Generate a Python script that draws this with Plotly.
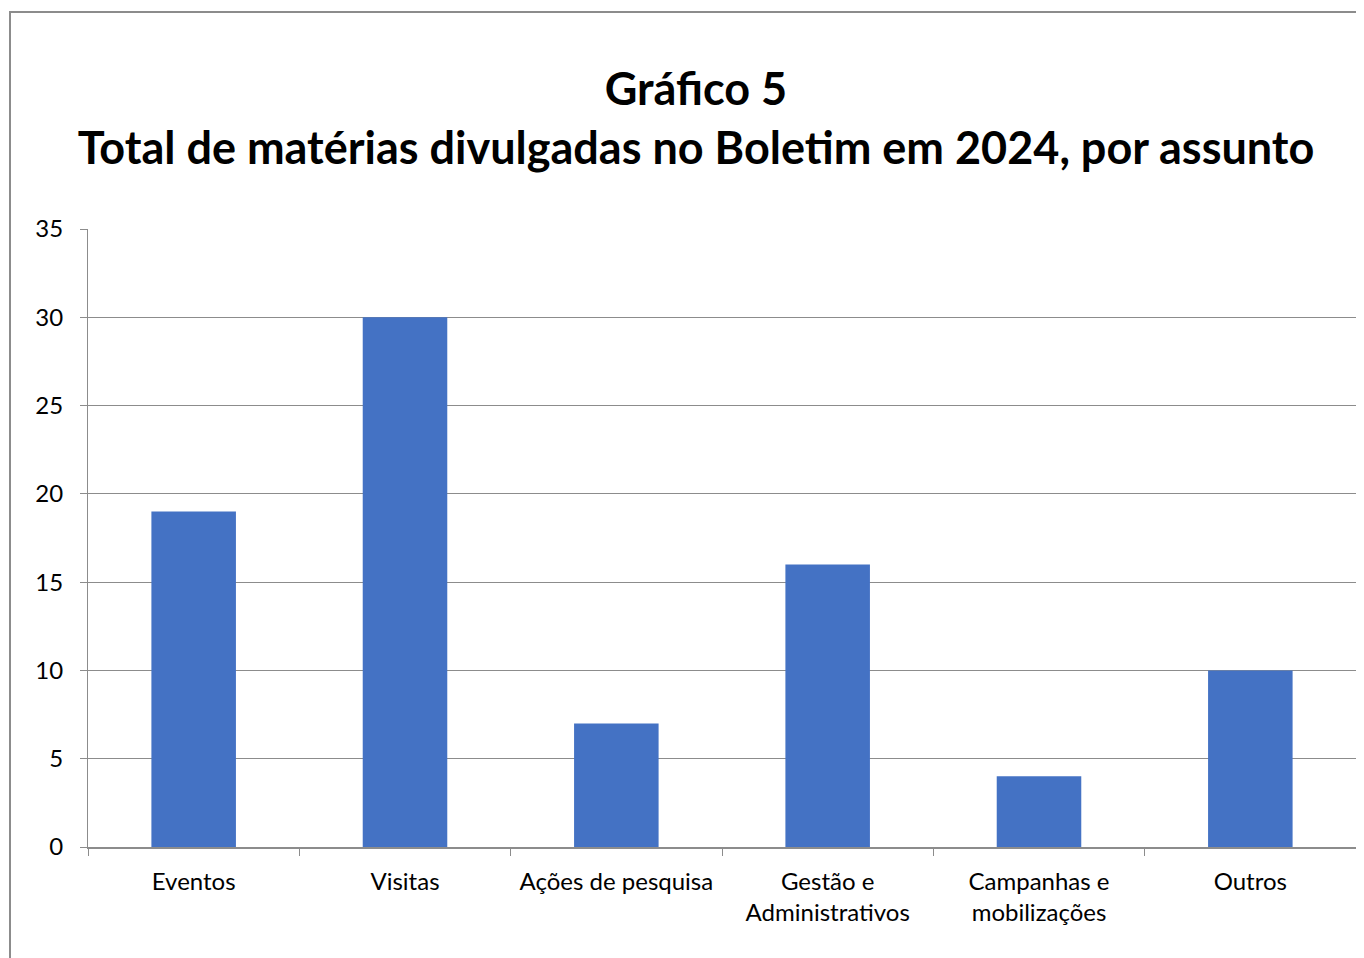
import plotly.graph_objects as go

categories = ["Eventos", "Visitas", "Ações de pesquisa", "Gestão e<br>Administrativos",
              "Campanhas e<br>mobilizações", "Outros"]
values = [19, 30, 7, 16, 4, 10]
y_ticks = [0, 5, 10, 15, 20, 25, 30, 35]

W, H = 1364, 958
OFF = 8  # page body margin offset
ml, mr, mt, mb = 88 - OFF, 16, 229 - OFF, 119
pw, ph = W - ml - mr, H - mt - mb

fig = go.Figure(go.Bar(x=categories, y=values, marker_color="#4472C4",
                       marker_line_width=0))

fig.update_layout(
    width=W, height=H,
    margin=dict(l=ml, r=mr, t=mt, b=mb),
    paper_bgcolor="white", plot_bgcolor="white",
    bargap=0.6,
    font=dict(family="Lato, Carlito, sans-serif", color="#000000", size=24),
    showlegend=False,
    title=dict(text="<b>Gráfico 5<br>Total de matérias divulgadas no Boletim em 2024, por assunto</b>",
               x=(696 - OFF) / W, xanchor="center", xref="container",
               y=1 - (105 - OFF) / H, yanchor="middle", yref="container",
               font=dict(size=45, family="Lato, Carlito, sans-serif", color="#000000")),
    xaxis=dict(showgrid=False, showline=True, linecolor="#8C8C8C", linewidth=1.5,
               ticks="outside", tickson="boundaries", ticklen=7, tickcolor="#8C8C8C",
               tickfont=dict(size=24), ticklabelstandoff=12),
    yaxis=dict(range=[0, 35], tickvals=y_ticks, showgrid=True, gridcolor="#8C8C8C",
               gridwidth=1, showline=True, linecolor="#8C8C8C", linewidth=1,
               ticks="outside", ticklen=7, tickcolor="#8C8C8C",
               tickfont=dict(size=24), zeroline=False, ticklabelstandoff=12),
)

# outer chart border
fig.add_shape(type="rect", xref="paper", yref="paper",
              x0=(10 - OFF - ml) / pw, x1=(W + 20 - ml) / pw,
              y0=(H - mb - (H + 20)) / ph, y1=(H - mb - (12 - OFF)) / ph,
              line=dict(color="#8C8C8C", width=2), fillcolor="rgba(0,0,0,0)", layer="below")

fig.write_html("out.html")
